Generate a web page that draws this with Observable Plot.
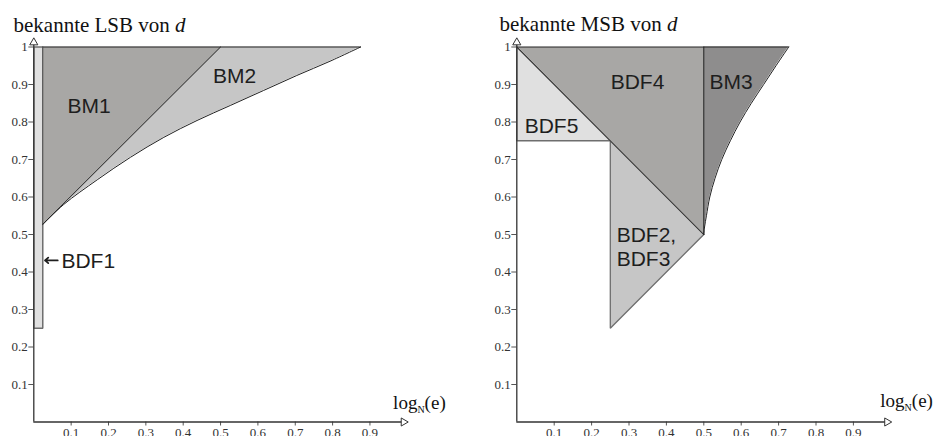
<!DOCTYPE html>
<html>
<head>
<meta charset="utf-8">
<script src="https://cdn.jsdelivr.net/npm/d3@7"></script>
<script src="https://cdn.jsdelivr.net/npm/@observablehq/plot@0.6"></script>
<style>
  body { margin: 0; background: white; }
  #wrap { display: flex; width: 935px; height: 436px; overflow: hidden; }
</style>
</head>
<body>
<div id="wrap"></div>
<script>
// ---- tick values ----
const xTicks = [0.1, 0.2, 0.3, 0.4, 0.5, 0.6, 0.7, 0.8, 0.9];
const yTicks = [0.1, 0.2, 0.3, 0.4, 0.5, 0.6, 0.7, 0.8, 0.9, 1];
const axisEnd = {x: 0.99, y: 1.012};

// ---- left panel (known LSB) regions, [log_N(e), fraction] ----
const bdf1 = [[0, 0.25], [0.024, 0.25], [0.024, 1], [0, 1], [0, 0.25]];
const bm1 = [[0.024, 0.527], [0.024, 1], [0.5, 1], [0.024, 0.527]];
const bm2Curve = [[0.024, 0.527], [0.080, 0.580], [0.170, 0.646], [0.259, 0.706], [0.348, 0.759],
                  [0.437, 0.804], [0.526, 0.844], [0.615, 0.884], [0.704, 0.924], [0.793, 0.962], [0.875, 1]];
const bm1Diag = [[0.024, 0.527], [0.5, 1]];
const bm1Side = [[0.024, 0.527], [0.024, 1]];
const leftTop = [[0.024, 1], [0.875, 1]];
const bm2Top = 1;

// ---- right panel (known MSB) regions ----
const bdf5 = [[0, 1], [0.25, 0.75], [0, 0.75], [0, 1]];
const bdf4 = [[0, 1], [0.5, 1], [0.5, 0.5], [0, 1]];
const bdf23 = [[0.25, 0.75], [0.5, 0.5], [0.25, 0.25], [0.25, 0.75]];
const bm3Curve = [[0.5, 0.5], [0.502, 0.52], [0.507, 0.55], [0.516, 0.6], [0.53, 0.65], [0.548, 0.7],
                  [0.571, 0.75], [0.597, 0.8], [0.627, 0.85], [0.66, 0.9], [0.693, 0.95], [0.727, 1]];
const bm3Left = 0.5;
const bdf4Diag = [[0, 1], [0.5, 0.5]];
const bdf4Side = [[0.5, 1], [0.5, 0.5]];
const rightTop = [[0, 1], [0.727, 1]];

// ---- labels ----
const leftLabels = [
  {x: 0.090, y: 0.823, text: "BM1"},
  {x: 0.480, y: 0.903, text: "BM2"},
  {x: 0.074, y: 0.412, text: "BDF1"}
];
const rightLabels = [
  {x: 0.251, y: 0.889, text: "BDF4"},
  {x: 0.515, y: 0.889, text: "BM3"},
  {x: 0.021, y: 0.772, text: "BDF5"},
  {x: 0.267, y: 0.479, text: "BDF2,"},
  {x: 0.267, y: 0.417, text: "BDF3"}
];
const bdf1Arrow = [{x1: 0.064, y1: 0.431, x2: 0.030, y2: 0.431}];
const titles = ["bekannte LSB von ", "bekannte MSB von "];
const titleVar = "d";
const xLabelPos = [{x: 0.962, y: 0.036}, {x: 0.972, y: 0.039}];

const C = {light: "#e0e0e0", mid: "#c6c6c6", dark: "#a8a7a5", darker: "#8e8d8d", edge: "#6e6e6e", line: "#222"};

const xy = {x: d => d[0], y: d => d[1]};

function poly(pts, fill, stroke, sw) {
  return Plot.line(pts, {...xy, fill, stroke, strokeWidth: sw, strokeLinejoin: "miter"});
}
function lineOnly(pts, stroke, sw, curve = "linear") {
  return Plot.line(pts, {...xy, stroke, strokeWidth: sw, curve});
}

function panel({width, marginLeft, marginRight, shapes, overlays, labels, title, xLabel, extra = []}) {
  const svg = Plot.plot({
    width, height: 436,
    marginLeft, marginRight, marginTop: 46.5, marginBottom: 14.5,
    x: {domain: [0, 1]},
    y: {domain: [0, 1]},
    clip: false,
    style: {fontFamily: "'Liberation Serif', 'Times New Roman', serif", fontSize: "13px", color: "#333", background: "white", overflow: "visible"},
    marks: [
      ...shapes,
      ...overlays,
      Plot.axisY(yTicks, {tickSize: 5, tickPadding: 1, fontSize: 13, tickFormat: d => String(d), label: null, stroke: "#555"}),
      Plot.axisX(xTicks, {tickSize: 4, tickPadding: 2, fontSize: 13, tickFormat: d => String(d), label: null, stroke: "#555"}),
      Plot.ruleX([0], {y1: 0, y2: axisEnd.y, stroke: "#333", strokeWidth: 1.3}),
      Plot.ruleY([0], {x1: 0, x2: axisEnd.x, stroke: "#333", strokeWidth: 1.3}),
      Plot.dot([[0, axisEnd.y]], {...xy, symbol: "triangle", r: 3, fill: "white", stroke: "#333", strokeWidth: 1}),
      Plot.dot([[axisEnd.x, 0]], {...xy, symbol: "triangle", r: 3, rotate: 90, fill: "white", stroke: "#333", strokeWidth: 1}),
      Plot.text(labels, {x: "x", y: "y", text: "text", textAnchor: "start", lineAnchor: "bottom",
        fontFamily: "'Liberation Sans', Arial, sans-serif", fontSize: 21, fill: "#1e1e1e"}),
      ...extra,
      Plot.text([title], {frameAnchor: "top-left", dx: title.dx, dy: title.dy, text: d => d.text, textAnchor: "start",
        lineAnchor: "bottom", fontSize: 21, fill: "#111", className: "ttl"}),
      Plot.text([xLabel], {x: "x", y: "y", text: () => "log(e)", textAnchor: "start", lineAnchor: "bottom",
        fontSize: 19, fill: "#111", className: "xlab"})
    ]
  });
  d3.select(svg).selectAll(".ttl text").each(function () {
    const t = d3.select(this);
    t.text(title.text);
    t.append("tspan").attr("font-style", "italic").text(titleVar);
  });
  d3.select(svg).selectAll(".xlab text").each(function () {
    const t = d3.select(this);
    t.text("log");
    t.append("tspan").attr("font-size", 10).attr("dy", 4).text("N");
    t.append("tspan").attr("dy", -4).text("(e)");
  });
  return svg;
}

const left = panel({
  width: 467, marginLeft: 33.3, marginRight: 60.2,
  shapes: [
    poly(bdf1, C.light, C.edge, 1.5),
    Plot.areaY(bm2Curve, {x: d => d[0], y1: d => d[1], y2: bm2Top, fill: C.mid, curve: "catmull-rom"}),
    poly(bm1, C.dark, "none", 0)
  ],
  overlays: [
    lineOnly(bm1Diag, C.line, 1),
    lineOnly(bm2Curve, C.line, 1, "catmull-rom"),
    lineOnly(leftTop, C.line, 1),
    lineOnly(bm1Side, "#444", 1)
  ],
  labels: leftLabels,
  title: {text: titles[0], dx: -20.3, dy: -15},
  xLabel: xLabelPos[0],
  extra: [
    Plot.arrow(bdf1Arrow, {x1: "x1", y1: "y1", x2: "x2", y2: "y2", stroke: "#1e1e1e", strokeWidth: 1.8, headLength: 7, headAngle: 80})
  ]
});

const right = panel({
  width: 468, marginLeft: 49.3, marginRight: 44.7,
  shapes: [
    poly(bdf5, C.light, C.edge, 1.5),
    poly(bdf23, C.mid, C.edge, 1.3),
    poly(bdf4, C.dark, "none", 0),
    Plot.areaX(bm3Curve, {y: d => d[1], x1: bm3Left, x2: d => d[0], fill: C.darker, curve: "catmull-rom"})
  ],
  overlays: [
    lineOnly(bdf4Diag, C.line, 1),
    lineOnly(bdf4Side, C.line, 1),
    lineOnly(bm3Curve, C.line, 1, "catmull-rom"),
    lineOnly(rightTop, C.line, 1)
  ],
  labels: rightLabels,
  title: {text: titles[1], dx: -17.3, dy: -16.5},
  xLabel: xLabelPos[1]
});

document.getElementById("wrap").append(left, right);
</script>
</body>
</html>
